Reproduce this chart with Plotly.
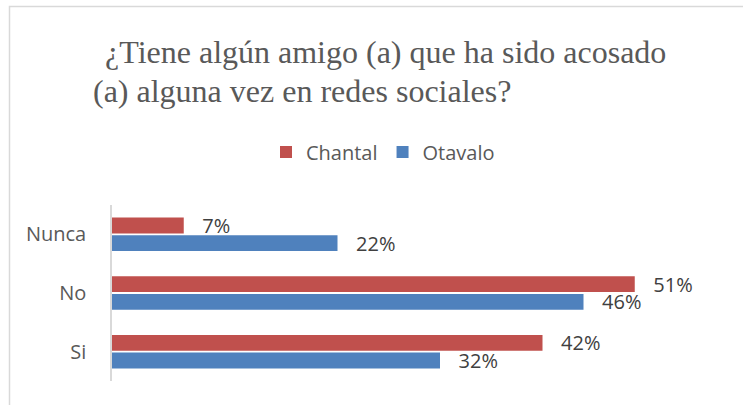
import plotly.graph_objects as go

categories = ["Nunca", "No", "Si"]
chantal = [7, 51, 42]
otavalo = [22, 46, 32]
series_names = ["Chantal", "Otavalo"]
title_lines = ["¿Tiene algún amigo (a) que ha sido acosado",
               "(a) alguna vez en redes sociales?"]

W, H = 743, 405
L, R, T, B = 112, 16, 205, 24
pw, ph = W - L - R, H - T - B

def px_x(x):
    return (x - L) / pw

def px_y(y):
    return (H - B - y) / ph

lab = "\u00a0\u00a0\u00a0%{x}%"
fig = go.Figure()
fig.add_trace(go.Bar(y=categories, x=chantal, name=series_names[0], orientation="h",
                     marker=dict(color="#C0504D", line=dict(width=0)),
                     texttemplate=lab, textposition="outside", cliponaxis=False,
                     constraintext="none",
                     textfont=dict(family="Open Sans", size=20, color="#404040")))
fig.add_trace(go.Bar(y=categories, x=otavalo, name=series_names[1], orientation="h",
                     marker=dict(color="#4F81BD", line=dict(width=0)),
                     texttemplate=lab, textposition="outside", cliponaxis=False,
                     constraintext="none",
                     textfont=dict(family="Open Sans", size=20, color="#404040")))

annotations = []
for txt, x0, yc in [(title_lines[0], 103, 52), (title_lines[1], 91, 91)]:
    annotations.append(dict(text=txt, xref="paper", yref="paper", x=px_x(x0), y=px_y(yc),
                            xanchor="left", yanchor="middle", showarrow=False,
                            font=dict(family="Liberation Serif", size=32, color="#595959")))

fig.update_layout(
    width=W, height=H,
    margin=dict(l=L, r=R, t=T, b=B),
    paper_bgcolor="white", plot_bgcolor="white",
    barmode="group", bargap=0.4, bargroupgap=0.1,
    showlegend=True,
    legend=dict(orientation="h", x=px_x(383), y=px_y(152), xanchor="center", yanchor="middle",
                font=dict(family="Open Sans", size=20, color="#595959"),
                itemclick=False, itemwidth=30),
    annotations=annotations,
    shapes=[dict(type="rect", xref="paper", yref="paper",
                 x0=px_x(9.5), x1=px_x(760), y0=px_y(420), y1=px_y(6.5),
                 line=dict(color="#D9D9D9", width=1.5), layer="below")],
    xaxis=dict(range=[0, 60], showgrid=False, zeroline=False, showticklabels=False,
               showline=False, ticks=""),
    yaxis=dict(autorange="reversed", showgrid=False, zeroline=False, showline=True,
               linecolor="#D9D9D9", linewidth=1.5, ticks="", ticklabelstandoff=20,
               tickfont=dict(family="Open Sans", size=20, color="#595959")),
)

fig.write_html("out.html", config={"displayModeBar": False},
               post_script="document.body.style.margin='0';")
